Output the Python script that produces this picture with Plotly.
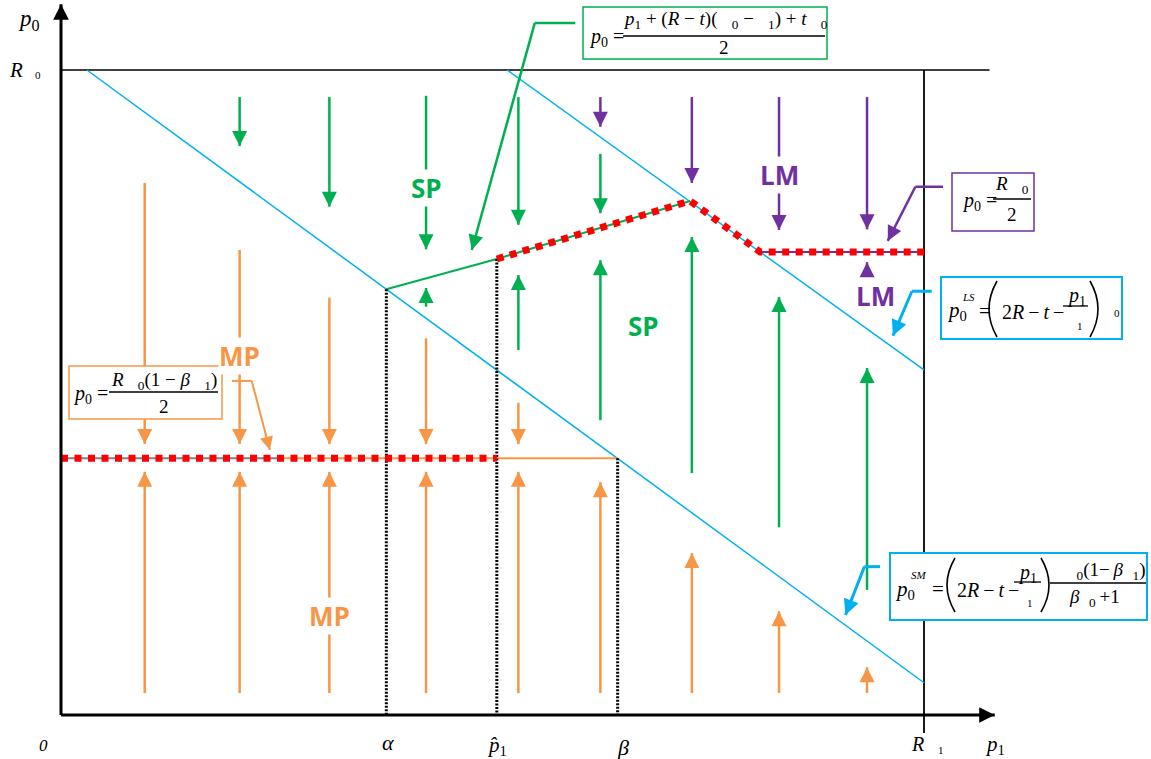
import math
import plotly.graph_objects as go

# model units: p1 runs 0..R1, p0 runs 0..R0
R1 = 100
R0 = 100
alpha = 37.7
p1_hat = 50.5
beta = 64.5
mp_level = 39.8       # p0 = R0(1-b1)/2
lm_level = 71.8       # p0 = R0/2
mp_gray_end = 25.7

# blue boundary lines
sm_x = [3.0, 100.0]
sm_y = [100.0, 5.0]
ls_x = [51.7, 100.0]
ls_y = [100.0, 53.5]

# SP reaction line and the red equilibrium path
sp_x = [37.7, 50.5, 72.9]
sp_y = [66.0, 70.7, 79.7]
path_x = [50.5, 72.9, 81.0, 100.0]
path_y = [70.7, 79.7, 71.8, 71.8]

# arrow columns (x, from, to)
orange_down_x = [9.7, 20.7, 31.1, 42.3, 53.0]
orange_down_from = [82.5, 72.1, 64.7, 58.4, 48.4]
orange_down_to = [42.0, 42.0, 42.0, 42.0, 42.0]

orange_up_x = [9.7, 20.7, 31.1, 42.3, 53.0, 62.5, 73.1, 83.2, 93.4]
orange_up_from = [3.4, 3.4, 3.4, 3.4, 3.4, 3.4, 3.4, 3.4, 3.4]
orange_up_to = [37.7, 37.7, 37.7, 37.7, 37.7, 36.1, 25.1, 16.1, 7.4]

green_down_x = [20.7, 31.1, 42.3, 53.0, 62.5]
green_down_from = [95.8, 95.8, 96.0, 95.8, 87.0]
green_down_to = [88.2, 78.8, 72.2, 76.0, 77.8]

green_up_x = [42.3, 53.0, 62.5, 73.1, 83.2, 93.4]
green_up_from = [63.3, 56.6, 45.7, 37.5, 29.1, 19.4]
green_up_to = [66.2, 68.2, 70.5, 74.1, 64.8, 53.8]

purple_down_x = [62.5, 73.1, 83.2, 93.4]
purple_down_from = [95.8, 95.8, 95.8, 95.8]
purple_down_to = [91.2, 82.5, 75.2, 75.3]

purple_up_x = [93.4]
purple_up_from = [68.2]
purple_up_to = [70.2]

# callout leaders
green_leader_x = [59.6, 54.9, 47.6]
green_leader_y = [107.3, 107.3, 72.1]
purple_leader_x = [102.2, 99.0, 95.8]
purple_leader_y = [81.9, 81.9, 73.5]
ls_leader_x = [100.9, 98.6, 96.4]
ls_leader_y = [65.7, 65.7, 58.8]
sm_leader_x = [94.9, 93.1, 90.9]
sm_leader_y = [23.0, 23.0, 15.5]
mp_leader_x = [19.8, 22.1, 24.2]
mp_leader_y = [51.8, 51.8, 41.1]

BLUE = "#00B0F0"
GREEN = "#00B050"
ORANGE = "#F79646"
PURPLE = "#7030A0"
RED = "#FF0000"
SERIF = "Liberation Serif"
SANS = "Open Sans"
GAP = "\u00a0\u00a0\u00a0"
GAP2 = "\u00a0\u00a0"
TH = "\u2009"

W, H = 1151, 759
X0, Y0, SX, SY = 61, 715, 8.63, 6.45   # origin pixel and pixels per model unit
fig = go.Figure()


def line(xs, ys, color, width=1.5, dash=None, backoff=None):
    fig.add_trace(go.Scatter(x=xs, y=ys, mode="lines", hoverinfo="skip",
                             line=dict(color=color, width=width, dash=dash, backoff=backoff)))


def head(x, y, xp, yp, color, width):
    # arrowhead at (x, y), pointing away from (xp, yp)
    dx = (xp - x) * SX
    dy = -(yp - y) * SY
    n = math.hypot(dx, dy)
    fig.add_annotation(x=x, y=y, xref="x", yref="y", ax=dx / n * 10, ay=dy / n * 10,
                       text="", showarrow=True, arrowhead=2, arrowsize=1.2,
                       arrowwidth=width, arrowcolor=color, standoff=0)


def arrow(xs, ys, color, width=2.5, hw=None):
    if len(xs) > 2:
        line(xs[:-1], ys[:-1], color, width)
    line(xs[-2:], ys[-2:], color, width, backoff=6)
    head(xs[-1], ys[-1], xs[-2], ys[-2], color, hw or width)


def arrows(xs, y0s, y1s, color):
    for x, a, b in zip(xs, y0s, y1s):
        arrow([x, x], [a, b], color)


def txt(x, y, s, size=19, color="black", family=SERIF, xanchor="left", bg=None):
    fig.add_annotation(x=x / W, y=1 - y / H, xref="paper", yref="paper", text=s,
                       showarrow=False, xanchor=xanchor, yanchor="middle",
                       bgcolor=bg, borderpad=0,
                       font=dict(family=family, size=size, color=color))


def box(x0, y0, x1, y1, color, width=1.5):
    fig.add_shape(type="rect", xref="paper", yref="paper", layer="above",
                  x0=x0 / W, x1=x1 / W, y0=1 - y0 / H, y1=1 - y1 / H,
                  line=dict(color=color, width=width), fillcolor="white")


def bar(x0, x1, y):
    fig.add_shape(type="line", xref="paper", yref="paper", layer="above",
                  x0=x0 / W, x1=x1 / W, y0=1 - y / H, y1=1 - y / H,
                  line=dict(color="black", width=1.3))


def paren(x, y0, y1, bulge):
    c = x + 2 * bulge
    ym = (y0 + y1) / 2
    path = "M {:.5f},{:.5f} Q {:.5f},{:.5f} {:.5f},{:.5f}".format(
        x / W, 1 - y0 / H, c / W, 1 - ym / H, x / W, 1 - y1 / H)
    fig.add_shape(type="path", xref="paper", yref="paper", layer="above", path=path,
                  line=dict(color="black", width=1.6))


# frame
line([R1, R1], [100.0, -2.8], "black", 1.8)
line([0, 107.6], [R0, R0], "black", 1.5)

# boundary lines
line(sm_x, sm_y, BLUE, 1.5)
line(ls_x, ls_y, BLUE, 1.5)

# MP level, LM level, SP line
line([0, mp_gray_end], [mp_level, mp_level], "#808080", 2)
line([mp_gray_end, beta], [mp_level, mp_level], ORANGE, 2)
line([path_x[2], R1], [lm_level, lm_level], PURPLE, 2)
line(sp_x, sp_y, GREEN, 2)

# dotted verticals
line([alpha, alpha], [sp_y[0], 0], "black", 3, "2px,1.5px")
line([p1_hat, p1_hat], [sp_y[1], 0], "black", 3, "2px,1.5px")
line([beta, beta], [mp_level, 0], "black", 3, "2px,1.5px")

# red equilibrium path
line([0, p1_hat], [mp_level, mp_level], RED, 7, "7px,6.5px")
line(path_x, path_y, RED, 7, "7px,6.5px")

# vector field
arrows(orange_down_x, orange_down_from, orange_down_to, ORANGE)
arrows(orange_up_x, orange_up_from, orange_up_to, ORANGE)
arrows(green_down_x, green_down_from, green_down_to, GREEN)
arrows(green_up_x, green_up_from, green_up_to, GREEN)
arrows(purple_down_x, purple_down_from, purple_down_to, PURPLE)
arrows(purple_up_x, purple_up_from, purple_up_to, PURPLE)

# leaders
arrow(green_leader_x, green_leader_y, GREEN, 2.5)
arrow(purple_leader_x, purple_leader_y, PURPLE, 2.5)
arrow(ls_leader_x, ls_leader_y, BLUE, 3, 2.6)
arrow(sm_leader_x, sm_leader_y, BLUE, 3, 2.6)
arrow(mp_leader_x, mp_leader_y, ORANGE, 2, 2.2)

# axes
arrow([0, 0], [0, 110.2], "black", 3, 2.6)
arrow([0, 108.2], [0, 0], "black", 3, 2.6)

# region labels
txt(426, 188, "<b>SP</b>", 26, GREEN, SANS, "center", "white")
txt(643, 326, "<b>SP</b>", 26, GREEN, SANS, "center")
txt(779, 175, "<b>LM</b>", 26, PURPLE, SANS, "center", "white")
txt(875, 296, "<b>LM</b>", 26, PURPLE, SANS, "center")
txt(240, 356, "<b>MP</b>", 26, ORANGE, SANS, "center", "white")
txt(329, 616, "<b>MP</b>", 26, ORANGE, SANS, "center", "white")

# green formula box
box(583, 7, 827, 59, GREEN)
txt(588, 37, "<i>p</i><sub>0</sub> =", 20)
txt(725, 20, "<i>p</i><sub>1</sub> + (<i>R</i> \u2212 <i>t</i>)(" + GAP + "<sub>0</sub> \u2212" + GAP
    + "<sub>1</sub>) + <i>t</i>" + GAP + "<sub>0</sub>", 19, xanchor="center")
bar(623, 825, 36)
txt(724, 48, "2", 19, xanchor="center")

# purple formula box
box(952, 173, 1034, 231, PURPLE)
txt(961, 201, "<i>p</i><sub>0</sub> =", 20)
txt(1012, 185, "<i>R</i>" + GAP + "<sub>0</sub>", 19, xanchor="center")
bar(993, 1031, 199)
txt(1012, 214, "2", 19, xanchor="center")

# LS formula box
box(941, 277, 1122, 339, BLUE, 2)
txt(946, 311, "<i>p</i><sub>0</sub>", 21)
txt(961, 297, "<i>LS</i>", 11)
txt(978, 311, "=", 21)
paren(997, 281, 337, -8)
txt(1001, 312, "2<i>R</i>" + TH + "\u2212" + TH + "<i>t</i>" + TH + "\u2212", 20)
txt(1076, 297, "<i>p</i><sub>1</sub>", 20, xanchor="center")
bar(1063, 1088, 306)
txt(1080, 326, "1", 11, xanchor="center")
paren(1090, 281, 337, 8)
txt(1117, 313, "0", 11, xanchor="center")

# SM formula box
box(890, 553, 1147, 620, BLUE, 2)
txt(894, 590, "<i>p</i><sub>0</sub>", 21)
txt(910, 575, "<i>SM</i>", 11)
txt(931, 589, "=", 21)
paren(955, 558, 612, -8)
txt(956, 590, "2<i>R</i>" + TH + "\u2212" + TH + "<i>t</i>" + TH + "\u2212", 20)
txt(1027, 573, "<i>p</i><sub>1</sub>", 20, xanchor="center")
bar(1014, 1041, 582)
txt(1030, 603, "1", 11, xanchor="center")
paren(1041, 558, 612, 8)
txt(1106, 571, GAP2 + "<sub>0</sub>(1\u2212" + TH + "<i>\u03b2</i>" + GAP2 + "<sub>1</sub>)", 19,
    xanchor="center")
bar(1050, 1146, 583)
txt(1094, 598, "<i>\u03b2</i>" + GAP2 + "<sub>0</sub>" + TH + "+1", 19, xanchor="center")

# MP formula box
box(69, 366, 222, 419, ORANGE)
txt(72, 394, "<i>p</i><sub>0</sub> =", 20)
txt(164, 381, "<i>R</i>" + GAP + "<sub>0</sub>(1 \u2212 <i>\u03b2</i>" + GAP + "<sub>1</sub>)", 19,
    xanchor="center")
bar(109, 218, 392)
txt(164, 406, "2", 19, xanchor="center")

# axis labels
txt(17, 20, "<i>p</i><sub>0</sub>", 23)
txt(8, 70, "<i>R</i>", 21)
txt(38, 75, "0", 11, xanchor="center")
txt(43, 745, "<i>0</i>", 17, xanchor="center")
txt(388, 742, "<i>\u03b1</i>", 22, xanchor="center")
txt(497, 746, "<i>p\u0302</i><sub>1</sub>", 21, xanchor="center")
txt(623, 747, "<i>\u03b2</i>", 22, xanchor="center")
txt(917, 744, "<i>R</i>", 20, xanchor="center")
txt(941, 750, "1", 11, xanchor="center")
txt(995, 745, "<i>p</i><sub>1</sub>", 21, xanchor="center")

fig.update_layout(width=W, height=H, margin=dict(l=0, r=0, t=0, b=0),
                  plot_bgcolor="white", paper_bgcolor="white", showlegend=False,
                  xaxis=dict(range=[-X0 / SX, (W - X0) / SX], visible=False),
                  yaxis=dict(range=[-(H - Y0) / SY, Y0 / SY], visible=False))
fig.write_html("out.html", config={"displayModeBar": False},
               post_script="document.body.style.margin='0';")
